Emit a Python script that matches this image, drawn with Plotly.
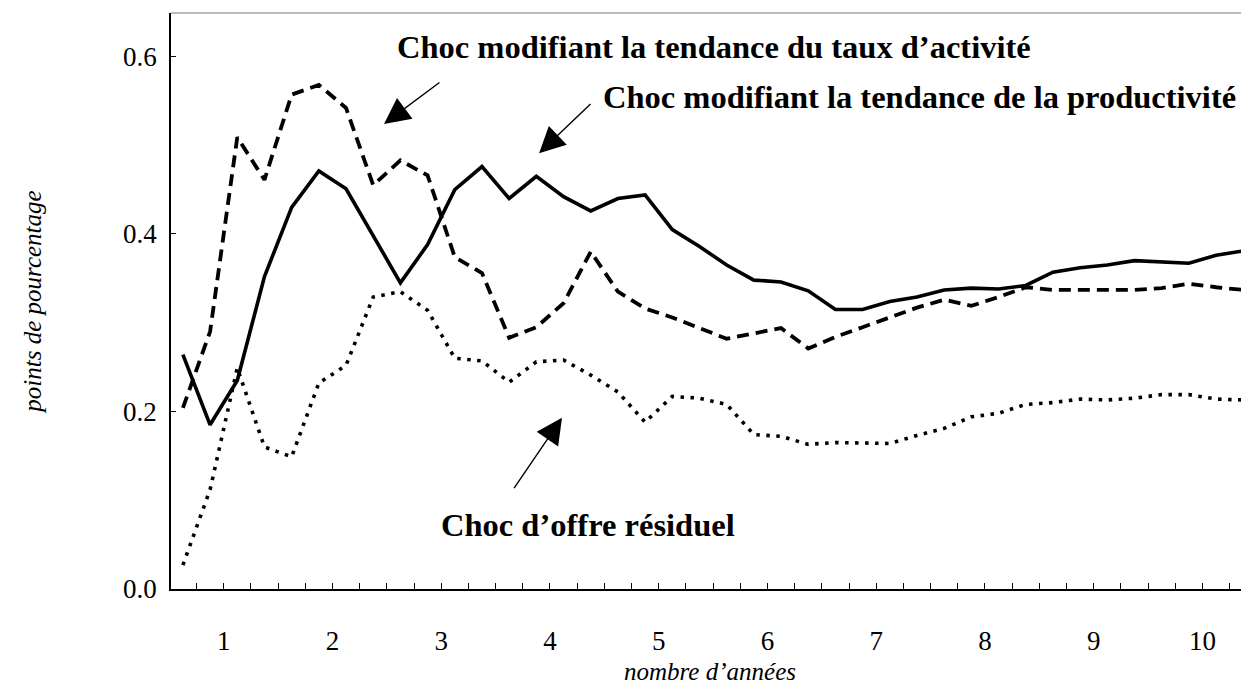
import plotly.graph_objects as go

quarters = list(range(1, 41))
year_labels = ["1", "2", "3", "4", "5", "6", "7", "8", "9", "10"]

productivite = [0.264, 0.185, 0.235, 0.352, 0.430, 0.471, 0.451, 0.397, 0.345, 0.388,
                0.450, 0.476, 0.440, 0.465, 0.442, 0.426, 0.440, 0.444, 0.405, 0.386,
                0.365, 0.348, 0.346, 0.336, 0.315, 0.315, 0.324, 0.329, 0.337, 0.339,
                0.338, 0.342, 0.357, 0.362, 0.365, 0.370, 0.369, 0.367, 0.376, 0.381]

activite = [0.204, 0.290, 0.509, 0.461, 0.557, 0.568, 0.542, 0.455, 0.483, 0.466,
            0.374, 0.356, 0.283, 0.295, 0.322, 0.380, 0.335, 0.316, 0.306, 0.294,
            0.282, 0.288, 0.294, 0.271, 0.284, 0.295, 0.306, 0.317, 0.326, 0.319,
            0.329, 0.340, 0.337, 0.337, 0.337, 0.337, 0.339, 0.344, 0.340, 0.337]

residuel = [0.027, 0.112, 0.249, 0.160, 0.149, 0.232, 0.252, 0.329, 0.335, 0.314,
            0.260, 0.257, 0.233, 0.256, 0.258, 0.241, 0.222, 0.188, 0.217, 0.215,
            0.208, 0.174, 0.172, 0.163, 0.165, 0.164, 0.164, 0.173, 0.181, 0.194,
            0.198, 0.208, 0.210, 0.214, 0.213, 0.215, 0.219, 0.219, 0.214, 0.213]

# position of each quarter, in years
x_years = [(q - 0.5) / 4 for q in quarters]
year_centers = [i + 0.5 for i in range(len(year_labels))]
year_bounds = list(range(1, 10))
quarter_ticks = [k / 4 for k in range(1, 40)]

SERIF = "Liberation Serif"

fig = go.Figure()
fig.add_trace(go.Scatter(x=x_years, y=activite, mode="lines",
                         line=dict(color="black", width=3.8, dash="12px,7px"),
                         name="Choc modifiant la tendance du taux d'activité"))
fig.add_trace(go.Scatter(x=x_years, y=productivite, mode="lines",
                         line=dict(color="black", width=3.6),
                         name="Choc modifiant la tendance de la productivité"))
fig.add_trace(go.Scatter(x=x_years, y=residuel, mode="lines",
                         line=dict(color="black", width=3.6, dash="3.5px,6.5px"),
                         name="Choc d'offre résiduel"))

XR = [0.0156, 9.928]
YR = [0, 0.649]

fig.update_layout(
    width=1241, height=677,
    margin=dict(l=163, r=0, t=5, b=96, autoexpand=False),
    paper_bgcolor="white", plot_bgcolor="white",
    showlegend=False,
    font=dict(family=SERIF, color="black"),
    xaxis=dict(range=XR, showgrid=False, zeroline=False, automargin=False,
               showline=True, linecolor="black", linewidth=1.5,
               tickvals=year_centers, ticktext=year_labels, ticks="",
               tickfont=dict(size=27, family=SERIF), ticklabelstandoff=27,
               minor=dict(tickvals=quarter_ticks, ticks="inside", ticklen=6,
                          tickcolor="black", tickwidth=1.2),
               title=dict(text="<i>nombre d’années</i>", font=dict(size=25, family=SERIF),
                          standoff=14)),
    xaxis2=dict(range=XR, overlaying="x", anchor="y", side="bottom", matches="x",
                showgrid=False, zeroline=False, showline=False, automargin=False,
                tickvals=year_bounds, ticks="inside", ticklen=11,
                tickcolor="black", tickwidth=1.5, showticklabels=False),
    yaxis=dict(range=YR, showgrid=False, zeroline=False, automargin=False,
               showline=True, linecolor="black", linewidth=1.5,
               tickvals=[0, 0.2, 0.4, 0.6], tickformat=".1f",
               ticks="inside", ticklen=5, tickcolor="black",
               tickfont=dict(size=27, family=SERIF), ticklabelstandoff=7,
               title=dict(text="<i>points de pourcentage</i>", font=dict(size=25, family=SERIF),
                          standoff=74)),
    shapes=[dict(type="line", xref="paper", yref="paper", x0=0, x1=1, y0=1, y1=1,
                 line=dict(color="#777777", width=1.2))],
)

ann_font = dict(family=SERIF, size=32.5, color="black")
fig.add_annotation(x=5.009, y=0.611, text="<b>Choc modifiant la tendance du taux d’activité</b>",
                   showarrow=False, font=ann_font, xanchor="center", yanchor="middle")
fig.add_annotation(x=6.900, y=0.554, text="<b>Choc modifiant la tendance de la productivité</b>",
                   showarrow=False, font=ann_font, xanchor="center", yanchor="middle")
fig.add_annotation(x=3.850, y=0.0721, text="<b>Choc d’offre résiduel</b>",
                   showarrow=False, font=ann_font, xanchor="center", yanchor="middle")

arrow_style = dict(showarrow=True, arrowhead=2, arrowsize=3.7, arrowwidth=1.4,
                   arrowcolor="black", text="", axref="x", ayref="y")
fig.add_annotation(x=1.974, y=0.524, ax=2.498, ay=0.572, **arrow_style)
fig.add_annotation(x=3.400, y=0.491, ax=3.887, ay=0.548, **arrow_style)
fig.add_annotation(x=3.611, y=0.193, ax=3.161, ay=0.112, **arrow_style)

fig.write_html("out.html")
